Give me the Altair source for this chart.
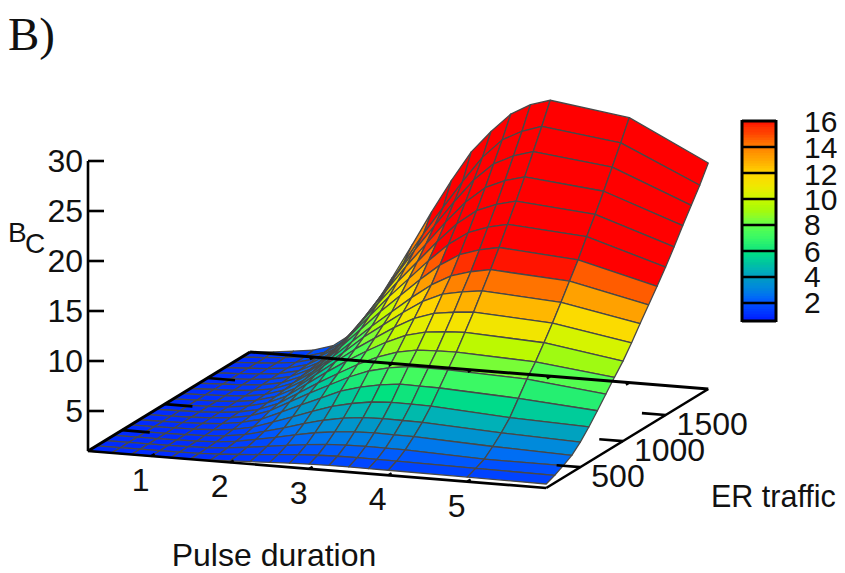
import altair as alt
import pandas as pd

# ---- values ----
pulse = [0.2, 0.5, 0.75, 1, 1.25, 1.5, 1.75, 2, 2.25, 2.5, 2.75, 3, 3.25, 3.5, 3.75, 4, 5, 6]
traffic = [100, 200, 300, 400, 500, 600, 700, 800, 900, 1000, 1100, 1200, 1300, 1400, 1500, 1600, 1700, 1800, 1900, 2000]
row100 = [1.0, 1.0, 1.01, 1.01, 1.02, 1.04, 1.09, 1.16, 1.24, 1.33, 1.41, 1.47, 1.5, 1.51, 1.5, 1.5, 1.45, 1.4]
row200 = [1.0, 1.0, 1.01, 1.02, 1.04, 1.07, 1.15, 1.29, 1.43, 1.59, 1.74, 1.84, 1.9, 1.92, 1.91, 1.9, 1.8, 1.75]
row300 = [1.0, 1.01, 1.02, 1.03, 1.06, 1.12, 1.26, 1.48, 1.72, 1.99, 2.23, 2.4, 2.5, 2.53, 2.52, 2.5, 2.2, 2.2]
row400 = [1.0, 1.01, 1.02, 1.05, 1.09, 1.18, 1.39, 1.74, 2.1, 2.52, 2.89, 3.14, 3.3, 3.35, 3.32, 3.3, 2.95, 2.7]
row500 = [1.0, 1.02, 1.03, 1.06, 1.13, 1.26, 1.54, 2.02, 2.54, 3.11, 3.62, 3.98, 4.2, 4.26, 4.23, 4.2, 3.8, 3.5]
row600 = [1.0, 1.02, 1.05, 1.1, 1.19, 1.39, 1.77, 2.42, 3.11, 3.82, 4.48, 4.93, 5.24, 5.36, 5.34, 5.3, 4.8, 4.5]
row700 = [1.0, 1.03, 1.07, 1.14, 1.28, 1.56, 2.06, 2.9, 3.8, 4.64, 5.48, 6.04, 6.43, 6.66, 6.63, 6.6, 6.2, 5.6]
row800 = [1.0, 1.04, 1.08, 1.17, 1.35, 1.69, 2.38, 3.42, 4.45, 5.42, 6.38, 7.14, 7.62, 7.9, 7.9, 7.9, 7.6, 6.75]
row900 = [1.0, 1.05, 1.1, 1.2, 1.4, 1.82, 2.59, 3.77, 4.95, 6.05, 7.11, 8.01, 8.66, 9.03, 9.11, 9.15, 8.8, 7.9]
row1000 = [1.0, 1.06, 1.12, 1.22, 1.46, 1.96, 2.82, 4.17, 5.51, 6.76, 7.91, 8.97, 9.83, 10.31, 10.5, 10.6, 10.2, 9.0]
row1100 = [1.0, 1.07, 1.13, 1.25, 1.52, 2.08, 3.08, 4.55, 6.0, 7.44, 8.71, 9.94, 10.99, 11.66, 11.93, 12.1, 11.65, 10.3]
row1200 = [1.0, 1.08, 1.15, 1.28, 1.57, 2.21, 3.35, 4.94, 6.46, 8.11, 9.51, 10.91, 12.18, 13.07, 13.45, 13.7, 13.2, 11.7]
row1300 = [1.0, 1.09, 1.17, 1.31, 1.64, 2.36, 3.65, 5.29, 7.01, 8.72, 10.3, 11.87, 13.3, 14.37, 14.94, 15.3, 14.8, 13.05]
row1400 = [1.0, 1.1, 1.19, 1.35, 1.72, 2.52, 3.96, 5.8, 7.72, 9.64, 11.4, 13.16, 14.76, 15.96, 16.6, 17.0, 16.4, 14.4]
row1500 = [1.0, 1.11, 1.21, 1.39, 1.8, 2.69, 4.29, 6.34, 8.48, 10.61, 12.57, 14.53, 16.31, 17.64, 18.36, 18.8, 18.2, 15.8]
row1600 = [1.0, 1.12, 1.24, 1.43, 1.88, 2.86, 4.63, 6.88, 9.23, 11.58, 13.74, 15.9, 17.86, 19.33, 20.11, 20.6, 19.9, 17.3]
row1700 = [1.0, 1.13, 1.26, 1.47, 1.97, 3.04, 4.98, 7.45, 10.03, 12.61, 14.98, 17.34, 19.49, 21.1, 21.96, 22.5, 21.7, 18.9]
row1800 = [1.0, 1.14, 1.28, 1.52, 2.06, 3.23, 5.35, 8.05, 10.87, 13.69, 16.28, 18.86, 21.21, 22.97, 23.91, 24.5, 23.6, 20.4]
row1900 = [1.0, 1.15, 1.31, 1.56, 2.15, 3.42, 5.72, 8.65, 11.71, 14.77, 17.58, 20.38, 22.93, 24.84, 25.86, 26.5, 25.5, 21.9]
row2000 = [1.0, 1.2, 1.44, 1.7, 2.3, 3.7, 6.3, 9.6, 13.0, 16.5, 19.8, 22.8, 25.0, 26.9, 28.0, 28.6, 27.5, 23.6]
rows = [row100, row200, row300, row400, row500, row600, row700, row800, row900, row1000,
        row1100, row1200, row1300, row1400, row1500, row1600, row1700, row1800, row1900, row2000]

z_ticks = [5, 10, 15, 20, 25, 30]
x_ticks = [1, 2, 3, 4, 5]
y_ticks = [500, 1000, 1500]
bar_ticks = [2, 4, 6, 8, 10, 12, 14, 16]
color_levels = [0.5, 2, 3, 4, 5, 6, 7, 8, 9, 10, 11, 12, 13, 14, 15, 16]
color_range = ["#0000ff", "#0050ff", "#0082e0", "#009cc0", "#00c2a0", "#10e47c", "#38f866", "#5cff48",
               "#a0fa10", "#c8f800", "#f0e800", "#ffd500", "#ffa800", "#ff8000", "#ff4400", "#ff0000"]


def project(x, y, z):
    return (88 + (x - 0.2) * 79 + (y - 100) * 0.0853,
            451 + (x - 0.2) * 6.38 - (y - 100) * 0.0521 - (z - 1) * 10)


def seg(a, b, w):
    p, q = project(*a), project(*b)
    return {"sx": p[0], "sy": p[1], "sx2": q[0], "sy2": q[1], "w": w}


# surface, far cells first
cells = []
cid = 0
for j in range(len(traffic) - 2, -1, -1):
    for i in range(len(pulse) - 1):
        corners = [(i, j), (i + 1, j), (i + 1, j + 1), (i, j + 1)]
        v = sum(rows[b][a] for a, b in corners) / 4
        for k, (a, b) in enumerate(corners):
            sx, sy = project(pulse[a], traffic[b], rows[b][a])
            cells.append({"cell": cid, "k": k, "sx": sx, "sy": sy, "v": v})
        cid += 1
surface_df = pd.DataFrame(cells)

XS = alt.Scale(domain=[8, 837], range=[0, 829], nice=False, zero=False)
YS = alt.Scale(domain=[8, 573], range=[0, 565], nice=False, zero=False)
CS = alt.Scale(domain=color_levels, range=color_range, clamp=True)
X = alt.X("sx:Q", scale=XS, axis=None)
Y = alt.Y("sy:Q", scale=YS, axis=None)

surface = alt.Chart(surface_df).mark_line(
    interpolate="linear-closed", stroke="#484848", strokeWidth=1.3, strokeJoin="round"
).encode(x=X, y=Y, detail="cell:N", order=alt.Order("k:Q"),
         fill=alt.Fill("v:Q", scale=CS, legend=None))

# colour bar
bar_y = lambda v: 121 + (16 - v) * 13
bar_vals = [0.54 + 0.2 * n for n in range(78)]
bar_df = pd.DataFrame([{"sx": 742, "sx2": 776, "sy": bar_y(v), "sy2": bar_y(min(v + 0.4, 16)), "v": v + 0.1} for v in bar_vals])
bar = alt.Chart(bar_df).mark_rect().encode(
    x=X, x2="sx2:Q", y=Y, y2="sy2:Q", fill=alt.Fill("v:Q", scale=CS, legend=None))

# axes
ymin, ymax, xmin, xmax = 100, 2000, 0.2, 6
rules = [seg((xmin, ymin, 1), (xmin, ymin, 30), 2.6)]
for z in z_ticks:
    p = project(xmin, ymin, z)
    rules.append({"sx": p[0], "sy": p[1], "sx2": p[0] + 16, "sy2": p[1], "w": 2.6})
rules += [seg((xmin, ymin, 1), (xmax, ymin, 1), 2.6), seg((xmax, ymin, 1), (xmax, ymax, 1), 2.6),
          seg((xmax, ymax, 1), (xmin, ymax, 1), 3), seg((xmin, ymax, 1), (xmin, ymin, 1), 3)]
for t in x_ticks:
    rules.append(seg((t, ymin, 1), (t, ymin + 40, 1), 2.4))
    rules.append(seg((t, ymax, 1), (t, ymax - 40, 1), 2.6))
for t in y_ticks:
    rules.append(seg((xmin, t, 1), (xmin + 0.35, t, 1), 2.6))
    rules.append(seg((xmax, t, 1), (xmax - 0.3, t, 1), 2.6))
for t in bar_ticks[:-1]:
    rules.append({"sx": 742, "sy": bar_y(t), "sx2": 776, "sy2": bar_y(t), "w": 2.4})
for a, b, c, d in [(742, 121, 776, 121), (742, 321, 776, 321), (742, 120, 742, 322), (776, 120, 776, 322)]:
    rules.append({"sx": a, "sy": b, "sx2": c, "sy2": d, "w": 3})
rule_df = pd.DataFrame(rules)
axes = alt.Chart(rule_df).mark_rule(color="black").encode(
    x=X, x2="sx2:Q", y=Y, y2="sy2:Q",
    strokeWidth=alt.StrokeWidth("w:Q", scale=None, legend=None))

# text
labels_r, labels_l, labels_c = [], [], []
for z in z_ticks:
    p = project(xmin, ymin, z)
    labels_r.append({"sx": p[0] - 5, "sy": p[1] + 11, "t": str(z)})
for t in x_ticks:
    p = project(t, ymin, 1)
    labels_c.append({"sx": p[0] - 10.5, "sy": p[1] + 35, "t": str(t)})
for t in y_ticks:
    p = project(xmax, t, 1)
    labels_l.append({"sx": p[0] + 11, "sy": p[1] + 20, "t": str(t)})
labels_c.append({"sx": 274, "sy": 566, "t": "Pulse duration"})
bar_labels = [{"sx": 804, "sy": base, "t": str(t)}
              for t, base in zip(bar_ticks, [313, 287, 262, 235, 210, 185, 158, 132])]


def text_layer(rows_, align, font="Liberation Sans", size=32):
    return alt.Chart(pd.DataFrame(rows_)).mark_text(
        align=align, baseline="alphabetic", font=font, fontSize=size, color="#111"
    ).encode(x=X, y=Y, text="t:N")


title = text_layer([{"sx": 8, "sy": 50, "t": "B)"}], "left", "Liberation Serif", 47)
bc = text_layer([{"sx": 8, "sy": 242, "t": "B"}, {"sx": 25, "sy": 253, "t": "C"}], "left", size=28)
er = text_layer([{"sx": 711, "sy": 507, "t": "ER traffic"}], "left", size=30.5)

chart = alt.layer(surface, bar, axes, text_layer(labels_r, "right"), text_layer(labels_l, "left"),
                  text_layer(labels_c, "center"), text_layer(bar_labels, "left", size=30), bc, er, title).properties(
    width=829, height=565, padding=0, autosize=alt.AutoSizeParams(type="none")
).configure_view(stroke=None)

chart.save("out.html", embed_options={"renderer": "svg", "actions": False})
